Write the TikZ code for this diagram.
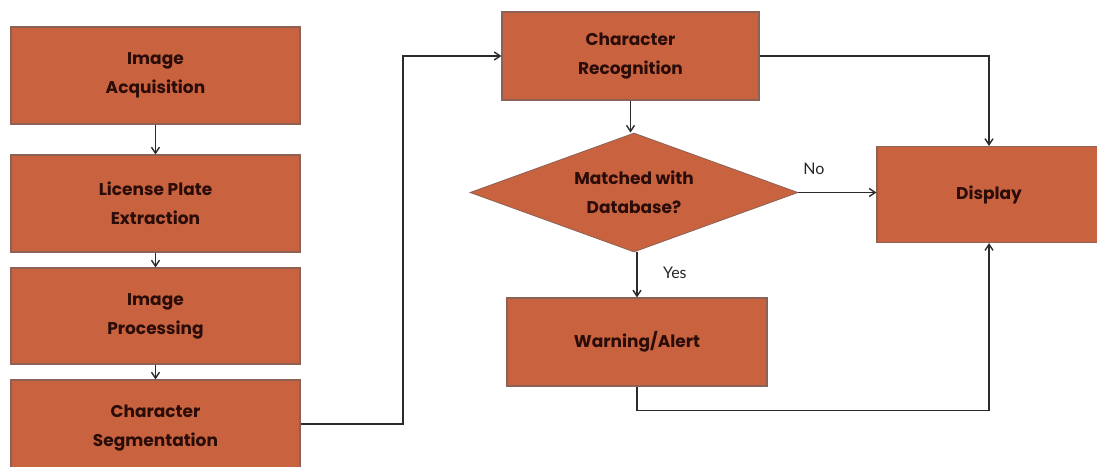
\documentclass[tikz,border=0pt]{standalone}
\usepackage{fontspec}
\setmainfont{Poppins}
\newfontfamily\labelfont{Lato}
\usetikzlibrary{shapes.geometric,arrows.meta}
\definecolor{boxfill}{HTML}{C9623F}
\definecolor{boxline}{HTML}{8C6256}
\definecolor{boxtext}{HTML}{2A0C08}
\definecolor{wire}{HTML}{2B2B2B}
\tikzset{
  stepbox/.style={draw=boxline, line width=1.2pt, fill=boxfill, text=boxtext,
    font=\fontsize{17}{29}\selectfont\bfseries, align=center, inner sep=0pt},
  decision/.style={diamond, aspect=2.76, draw=boxline, line width=0.8pt, fill=boxfill, text=boxtext,
    font=\fontsize{17}{29}\selectfont\bfseries, align=center, inner sep=0pt},
  arr/.style={draw=wire, line width=1.4pt, -{Straight Barb[length=6pt,width=8pt]}},
  lbl/.style={font=\labelfont\fontsize{16}{18}\selectfont, text=black!85}
}
\begin{document}
\begin{tikzpicture}[x=1pt,y=-1pt]
\useasboundingbox (0,0) rectangle (1097,466);
\fill[white] (0,0) rectangle (1097,466);
\begin{scope}
\clip (0,0) rectangle (1097,466);
% left column of processing stages
\node[stepbox, minimum width=289pt, minimum height=97pt] (acq) at (155.5,75.5) {Image\\Acquisition};
\node[stepbox, minimum width=289pt, minimum height=97pt] (lpe) at (155.5,203.5) {License Plate\\Extraction};
\node[stepbox, minimum width=289pt, minimum height=96pt] (proc) at (155.5,316) {Image\\Processing};
\node[stepbox, minimum width=289pt, minimum height=96pt] (seg) at (155.5,428) {Character\\Segmentation};
% recognition and decision
\node[stepbox, minimum width=257pt, minimum height=88pt] (rec) at (630.5,56) {Character\\Recognition};
\node[decision, minimum width=328pt, minimum height=119pt] (match) at (634,192.5) {Matched with\\Database?};
\node[stepbox, minimum width=260pt, minimum height=88pt] (warn) at (637,342) {Warning/Alert};
\node[stepbox, minimum width=224pt, minimum height=96pt] (disp) at (989,194.5) {Display};
\end{scope}
% connectors
\draw[arr] (acq.south) -- (lpe.north);
\draw[arr] (lpe.south) -- (proc.north);
\draw[arr] (proc.south) -- (seg.north);
\draw[arr] (seg.east |- 0,424) -- (403,424) |- (rec.west);
\draw[arr] (rec.south) -- (rec.south |- match.north);
\draw[arr] (rec.east) -| (disp.north);
\draw[arr] (match.east) -- node[lbl, above=14pt, pos=0.2] (no) {No} (match.east -| disp.west);
\draw[arr] (match.south -| warn.north) -- node[lbl, right=22pt, pos=0.45] (yes) {Yes} (warn.north);
\draw[arr] (warn.south) -- ++(0,24) -| (disp.south);
\end{tikzpicture}
\end{document}
